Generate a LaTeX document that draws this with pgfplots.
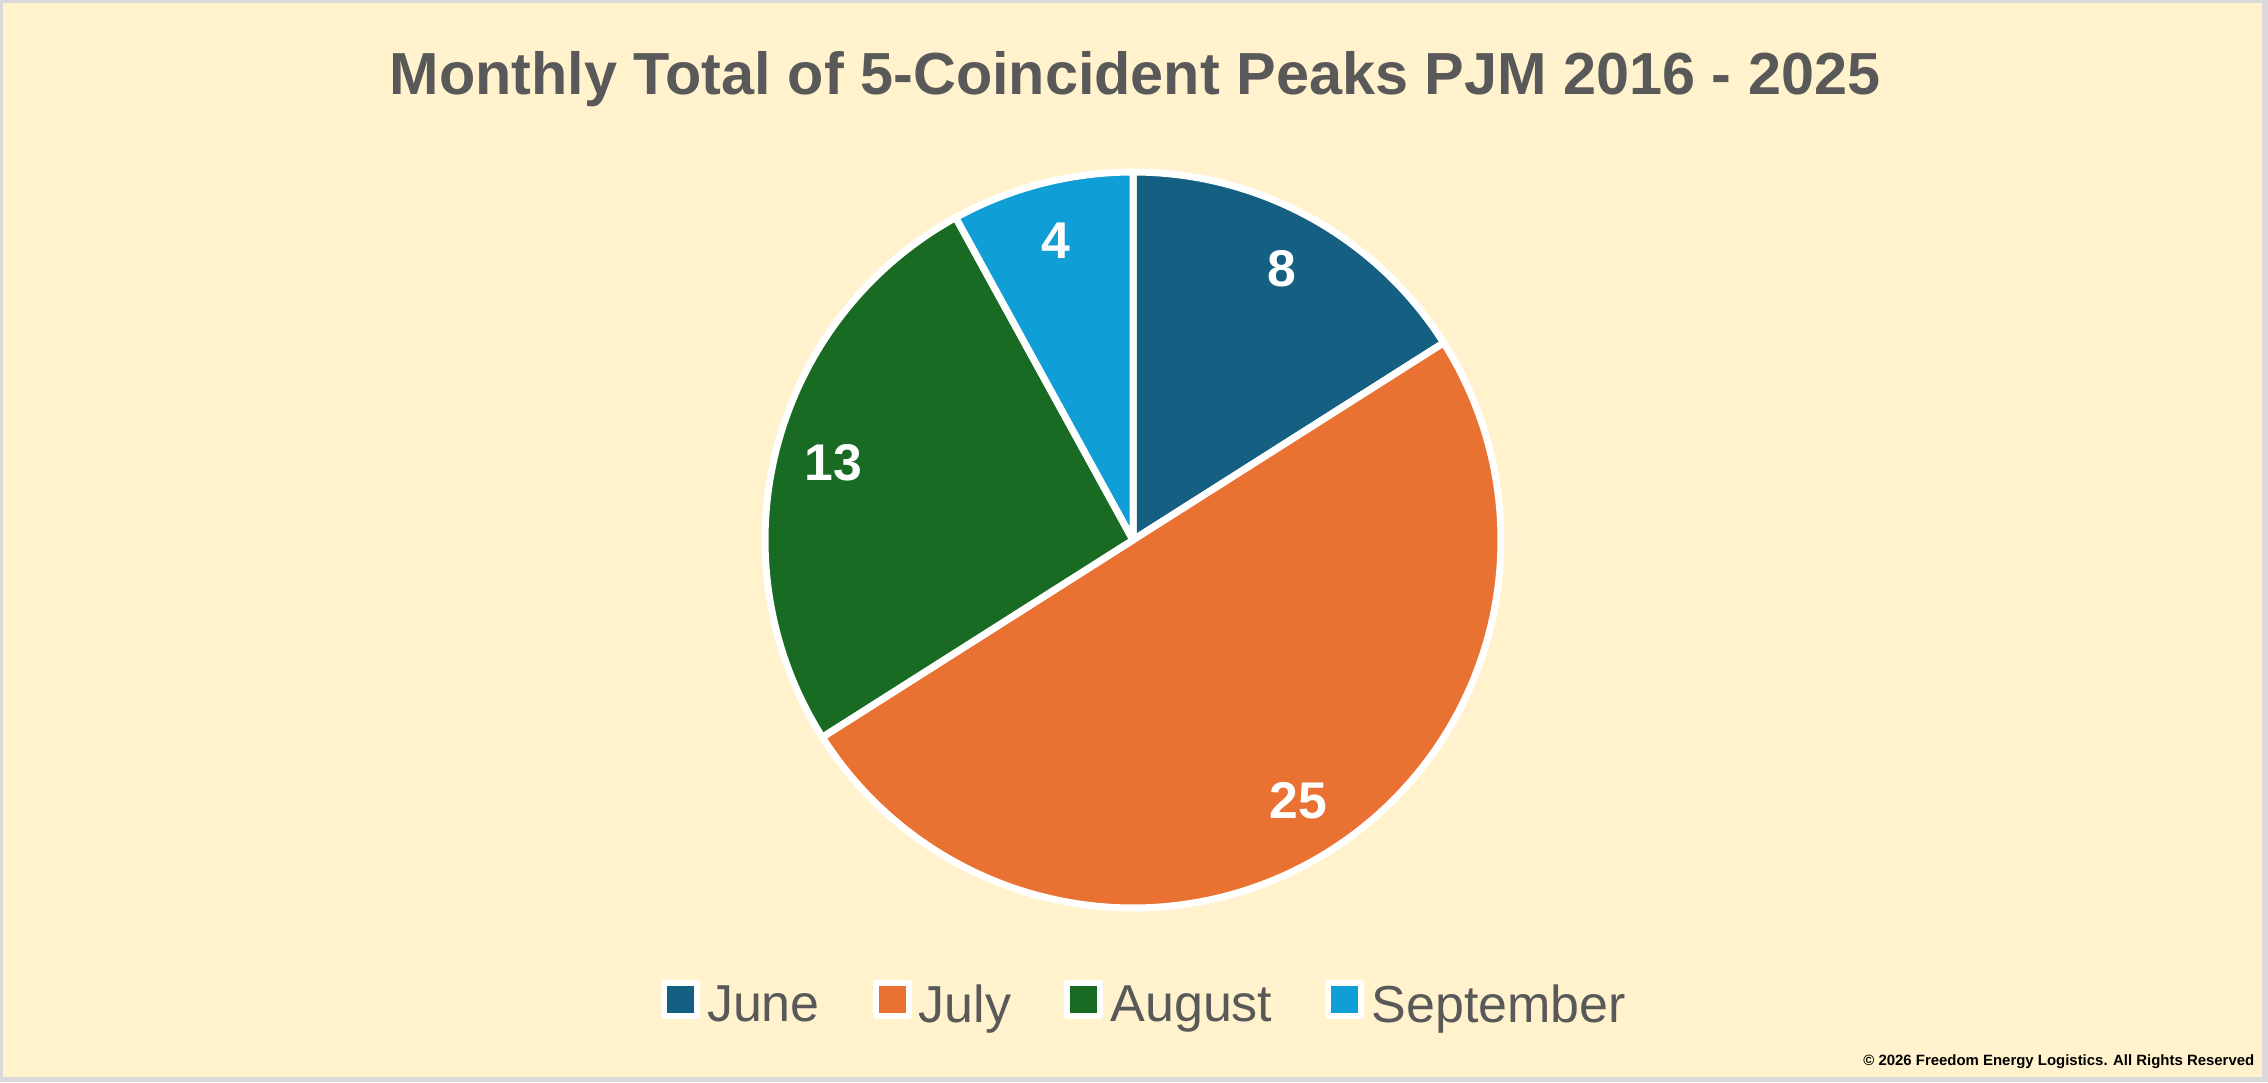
\documentclass[border=0pt]{standalone}
\usepackage{pgfplots}
\pgfplotsset{compat=1.18}
\usepackage{pgfplotstable}
\usepackage{fontspec}
\setmainfont{Liberation Sans}
\definecolor{cJune}{HTML}{156082}
\definecolor{cJuly}{HTML}{E97132}
\definecolor{cAug}{HTML}{196B24}
\definecolor{cSep}{HTML}{0F9ED5}
\definecolor{bgY}{HTML}{FFF2CC}
\definecolor{frameG}{HTML}{D9D9D9}
\definecolor{txtG}{HTML}{595959}

\pgfplotstableread{
month value
June 8
July 25
August 13
September 4
}\piedata

\pgfplotstablegetelem{0}{value}\of\piedata \let\vA\pgfplotsretval
\pgfplotstablegetelem{1}{value}\of\piedata \let\vB\pgfplotsretval
\pgfplotstablegetelem{2}{value}\of\piedata \let\vC\pgfplotsretval
\pgfplotstablegetelem{3}{value}\of\piedata \let\vD\pgfplotsretval
\pgfmathsetmacro\tot{\vA+\vB+\vC+\vD}
% angles: start at 90 deg, clockwise
\pgfmathsetmacro\aA{90}
\pgfmathsetmacro\aB{\aA-360*\vA/\tot}
\pgfmathsetmacro\aC{\aB-360*\vB/\tot}
\pgfmathsetmacro\aD{\aC-360*\vC/\tot}
\pgfmathsetmacro\aE{\aD-360*\vD/\tot}
% label positions (mid angles)
\def\lr{0.84}
\pgfmathsetmacro\lxA{\lr*cos((\aA+\aB)/2)}\pgfmathsetmacro\lyA{\lr*sin((\aA+\aB)/2)}
\pgfmathsetmacro\lxB{\lr*cos((\aB+\aC)/2)}\pgfmathsetmacro\lyB{\lr*sin((\aB+\aC)/2)}
\pgfmathsetmacro\lxC{\lr*cos((\aC+\aD)/2)}\pgfmathsetmacro\lyC{\lr*sin((\aC+\aD)/2)}
\pgfmathsetmacro\lxD{\lr*cos((\aD+\aE)/2)}\pgfmathsetmacro\lyD{\lr*sin((\aD+\aE)/2)}

\begin{document}
\begin{tikzpicture}
\useasboundingbox (0,0) rectangle (22.68,10.82);
\fill[frameG] (0,0) rectangle (22.68,10.82);
\fill[bgY] (0.03,0.05) rectangle (22.62,10.79);
\node[anchor=base, text=txtG, font=\fontsize{16.9pt}{20pt}\selectfont\bfseries] at (11.35,9.87) {Monthly Total of 5-Coincident Peaks PJM 2016 - 2025};
\node[anchor=base east, inner sep=0pt, font=\fontsize{4.25pt}{5pt}\selectfont\bfseries] at (22.55,0.17) {\textcopyright\ 2026 Freedom Energy Logistics. All Rights Reserved};
\begin{scope}[shift={(7.65,1.74)}]
\begin{axis}[
  anchor=south west,
  scale only axis, width=7.36cm, height=7.36cm,
  xmin=-1, xmax=1, ymin=-1, ymax=1,
  hide axis, clip=false,
  legend columns=4,
  legend style={at={(axis description cs:0.519,-0.134)}, anchor=center,
    draw=none, fill=none, text=txtG,
    font=\fontsize{14.8pt}{17pt}\selectfont,
    column sep=0.0cm,
    /tikz/every even column/.append style={column sep=0.46cm}},
  legend image code/.code={\draw[#1, draw=white, line width=0.06cm] (0.03cm,-0.09cm) rectangle (0.36cm,0.24cm);},
]
\addplot[fill=cJune, draw=white, line width=0.07cm, line join=round, domain=\aB:\aA, samples=80, variable=\t] ({cos(\t)},{sin(\t)}) -- (axis cs:0,0) -- cycle;
\addlegendentry{June}
\addplot[fill=cJuly, draw=white, line width=0.07cm, line join=round, domain=\aC:\aB, samples=160, variable=\t] ({cos(\t)},{sin(\t)}) -- (axis cs:0,0) -- cycle;
\addlegendentry{July}
\addplot[fill=cAug, draw=white, line width=0.07cm, line join=round, domain=\aD:\aC, samples=100, variable=\t] ({cos(\t)},{sin(\t)}) -- (axis cs:0,0) -- cycle;
\addlegendentry{August}
\addplot[fill=cSep, draw=white, line width=0.07cm, line join=round, domain=\aE:\aD, samples=50, variable=\t] ({cos(\t)},{sin(\t)}) -- (axis cs:0,0) -- cycle;
\addlegendentry{September}
\addplot[only marks, mark=none, point meta=explicit symbolic,
  nodes near coords,
  every node near coord/.append style={anchor=center, text=white, font=\fontsize{14.7pt}{17pt}\selectfont\bfseries}]
  coordinates {(\lxA,\lyA)[\vA] (\lxB,\lyB)[\vB] (\lxC,\lyC)[\vC] (\lxD,\lyD)[\vD]};
\end{axis}
\end{scope}
\end{tikzpicture}
\end{document}
